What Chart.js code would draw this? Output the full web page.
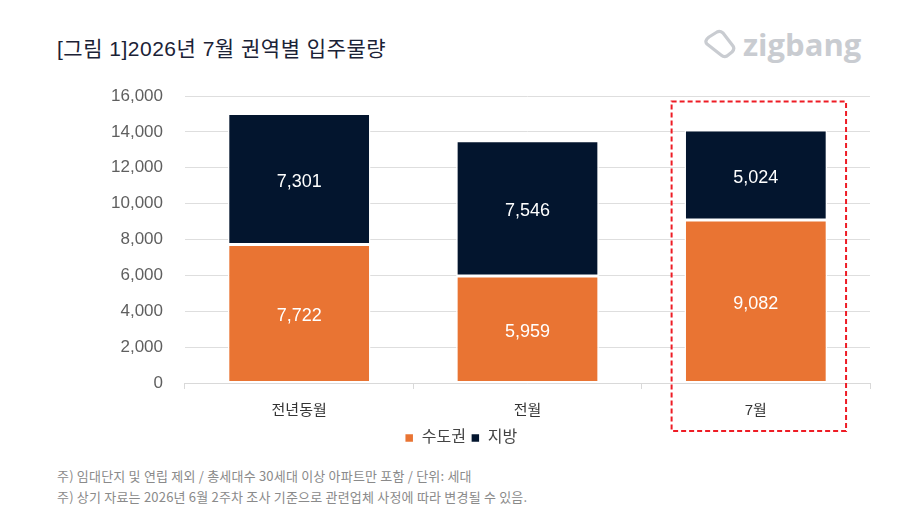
<!DOCTYPE html>
<html><head><meta charset="utf-8">
<script src="https://cdn.jsdelivr.net/npm/chart.js@4.4.1/dist/chart.umd.min.js"></script>
<style>
html,body{margin:0;padding:0;background:#fff;width:907px;height:520px;overflow:hidden;font-family:"Liberation Sans","Noto Sans CJK KR",sans-serif;}
#title{position:absolute;left:57px;top:32px;font-size:21px;color:#1b2236;font-family:"Liberation Sans","Noto Sans CJK KR",sans-serif;letter-spacing:0.5px;}
#logo{position:absolute;left:703px;top:26px;height:36px;display:flex;align-items:center;color:#c9ccd1;}
#logo span{font-family:"Open Sans","DejaVu Sans",sans-serif;font-weight:700;font-size:31px;letter-spacing:0px;margin-left:6px;line-height:36px;}
.note{position:absolute;left:57px;font-size:13px;color:#8a8a8a;font-family:"Noto Sans CJK KR",sans-serif;letter-spacing:0.2px;}
#wrap{position:absolute;left:0;top:0;width:907px;height:456px;}
</style></head>
<body>
<div id="title">[그림 1]2026년 7월 권역별 입주물량</div>
<div id="logo"><svg width="34" height="30" viewBox="0 0 34 30"><path d="M6 8 L14 3 Q17 1.5 20 4 L30 17 Q32 20 29 23 L24 27 Q21 28.5 18 26 L4 15 Q1 12 6 8 Z" fill="none" stroke="#c9ccd1" stroke-width="3.2" stroke-linejoin="round"/></svg><span>zigbang</span></div>
<div id="wrap"><canvas id="c"></canvas></div>
<div class="note" style="top:466px">주) 임대단지 및 연립 제외 / 총세대수 30세대 이상 아파트만 포함 / 단위: 세대</div>
<div class="note" style="top:487px">주) 상기 자료는 2026년 6월 2주차 조사 기준으로 관련업체 사정에 따라 변경될 수 있음.</div>
<script>
const categories = ["전년동월", "전월", "7월"];
const capitalArea = [7722, 5959, 9082];
const provinces = [7301, 7546, 5024];
const seriesNames = ["수도권", "지방"];
const yTicks = [0, 2000, 4000, 6000, 8000, 10000, 12000, 14000, 16000];
const highlightIndex = 2;

const FONT = '"Liberation Sans","Noto Sans CJK KR",sans-serif';

const labelPlugin = {
  id: 'segLabels',
  afterDatasetsDraw(chart) {
    const ctx = chart.ctx;
    ctx.save();
    ctx.fillStyle = '#ffffff';
    ctx.font = '18px ' + FONT;
    ctx.textAlign = 'center';
    ctx.textBaseline = 'middle';
    chart.data.datasets.forEach((ds, di) => {
      const meta = chart.getDatasetMeta(di);
      meta.data.forEach((bar, i) => {
        const y = (bar.y + bar.base) / 2;
        ctx.fillText(ds.data[i].toLocaleString('en-US'), bar.x, y + 3);
      });
    });
    ctx.restore();
  }
};

const boxPlugin = {
  id: 'highlightBox',
  afterDraw(chart) {
    const x = chart.scales.x, y = chart.scales.y;
    const cx = x.getPixelForValue(highlightIndex) + 3;
    const half = (x.getPixelForValue(1) - x.getPixelForValue(0)) * 0.382;
    const ctx = chart.ctx;
    ctx.save();
    ctx.strokeStyle = '#ee1c25';
    ctx.lineWidth = 2;
    ctx.setLineDash([5, 3]);
    const top = y.getPixelForValue(15700);
    const bottom = y.bottom + 48;
    ctx.strokeRect(cx - half, top, half * 2, bottom - top);
    ctx.restore();
  }
};

new Chart(document.getElementById('c'), {
  type: 'bar',
  data: {
    labels: categories,
    datasets: [
      { label: seriesNames[0], data: capitalArea, backgroundColor: '#e97433', borderColor: '#ffffff', borderWidth: 1.5, borderSkipped: false, barPercentage: 0.625, categoryPercentage: 1.0 },
      { label: seriesNames[1], data: provinces, backgroundColor: '#03152e', borderColor: '#ffffff', borderWidth: 1.5, borderSkipped: false, barPercentage: 0.625, categoryPercentage: 1.0 }
    ]
  },
  options: {
    responsive: true,
    maintainAspectRatio: false,
    animation: false,
    layout: { padding: { left: 52, right: 37, top: 96, bottom: 0 } },
    plugins: {
      legend: {
        position: 'bottom',
        labels: { boxWidth: 9, boxHeight: 9, padding: 5, color: '#444', font: { size: 16, family: FONT } }
      },
      tooltip: { enabled: false }
    },
    scales: {
      x: {
        stacked: true,
        afterFit(axis) { axis.height -= 8; },
        grid: { display: true, drawOnChartArea: false, drawTicks: true, tickLength: 6, color: '#d9d9d9' },
        border: { display: true, color: '#d9d9d9' },
        ticks: { color: '#333', font: { size: 15, family: FONT }, padding: 13 }
      },
      y: {
        stacked: true,
        min: 0, max: 16000,
        afterFit(axis) { axis.width += 37; },
        afterBuildTicks(axis) { axis.ticks = yTicks.map(v => ({ value: v })); },
        grid: { color: '#dedede', drawTicks: false },
        border: { display: false },
        ticks: { color: '#5f5f5f', font: { size: 17, family: FONT }, padding: 22,
          callback: v => Number(v).toLocaleString('en-US') }
      }
    }
  },
  plugins: [labelPlugin, boxPlugin]
});
</script>
</body></html>
